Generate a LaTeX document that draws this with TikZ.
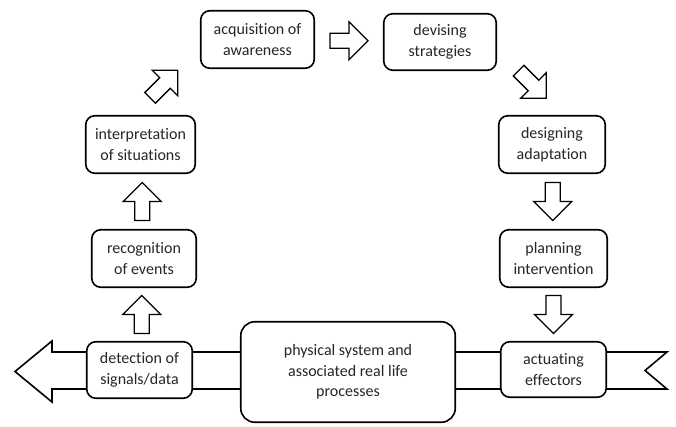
\documentclass[tikz,border=0pt]{standalone}
\usepackage{fontspec}
\setmainfont{Carlito}[Ligatures=NoCommon]
\usetikzlibrary{calc,backgrounds}
\tikzset{
  boxline/.style={line width=1.6pt, draw=black, line join=round},
  box/.style={boxline, fill=white, rounded corners=9pt, align=center,
    inner sep=2pt, font=\fontsize{16}{20.5}\selectfont, text=black!85},
  arrowline/.style={line width=1.3pt, draw=black, fill=white, line join=miter},
  barrow/.pic={\draw[arrowline] (-19,7.5) -- (0,7.5) -- (0,19) -- (19,0) -- (0,-19) -- (0,-7.5) -- (-19,-7.5) -- cycle;},
  darrow/.pic={\draw[arrowline] (-21,7.5) -- (0,7.5) -- (0,18) -- (18,0) -- (0,-18) -- (0,-7.5) -- (-21,-7.5) -- cycle;}
}
\begin{document}
\begin{tikzpicture}[x=1pt,y=-1pt]
\useasboundingbox (0,0) rectangle (676,427);
% boxes
\node[box, minimum width=113.5pt, minimum height=57.5pt] (acq) at (257.5,39.5) {acquisition of\\awareness};
\node[box, minimum width=112.5pt, minimum height=56.5pt] (dev) at (440,42) {devising\\strategies};
\node[box, minimum width=106.5pt, minimum height=57.5pt] (des) at (552,144.5) {designing\\adaptation};
\node[box, minimum width=107.5pt, minimum height=57.5pt] (plan) at (553.5,258.5) {planning\\intervention};
\node[box, minimum width=105.5pt, minimum height=55.5pt] (act) at (553.5,369.5) {actuating\\effectors};
\node[box, minimum width=214.5pt, minimum height=100.5pt, rounded corners=14pt] (phys) at (348,372) {physical system and\\associated real life\\processes};
\node[box, minimum width=105.5pt, minimum height=56.5pt] (det) at (139.5,370) {detection of\\signals/data};
\node[box, minimum width=104.5pt, minimum height=57.5pt] (rec) at (144,258.5) {recognition\\of events};
\node[box, minimum width=109.5pt, minimum height=57.5pt] (intp) at (140.5,144.5) {interpretation\\of situations};
% band behind boxes
\begin{scope}[on background layer]
\coordinate (bl) at (15,371.5);
\coordinate (br) at (645,370.5);
\draw[boxline, fill=white, line join=miter] (52,352) -- (52,341) -- (bl) -- (52,402) -- (52,389) -- (667,389) -- (br) -- (667,352) -- cycle;
\end{scope}
% block arrows
\pic[rotate=90] (a1) at ($(det.north)!0.5!(rec.south)$) {barrow};
\pic[rotate=90] (a2) at ($(rec.north)!0.5!(intp.south)$) {barrow};
\coordinate (c3) at (165,83);
\pic[rotate=45] (a3) at (c3) {darrow};
\pic (a4) at ($(acq.east)!0.5!(dev.west)$) {barrow};
\coordinate (c5) at (533.5,85.5);
\pic[rotate=-45] (a5) at (c5) {darrow};
\pic[rotate=-90] (a6) at ($(des.south)!0.5!(plan.north)$) {barrow};
\pic[rotate=-90] (a7) at ($(plan.south)!0.5!(act.north)$) {barrow};
\end{tikzpicture}
\end{document}
